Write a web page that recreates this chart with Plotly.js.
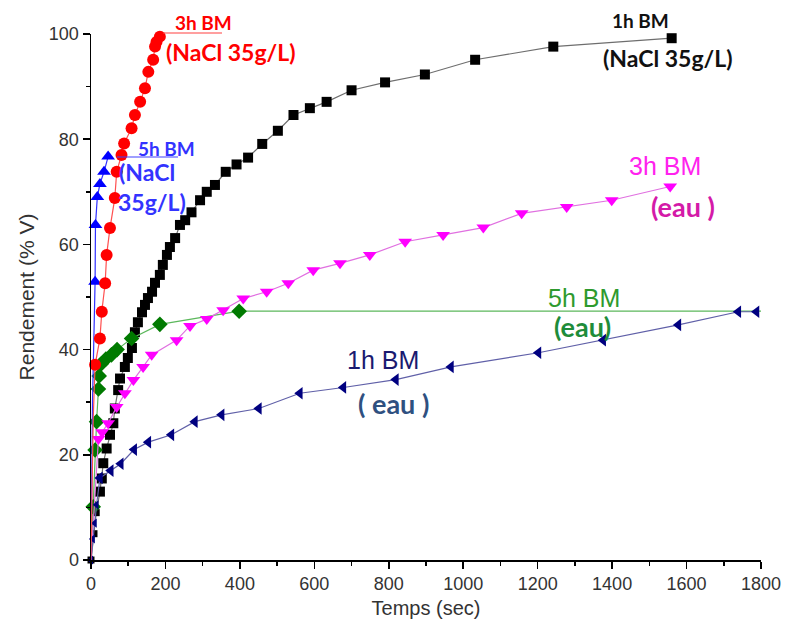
<!DOCTYPE html>
<html><head><meta charset="utf-8">
<script src="https://cdn.plot.ly/plotly-3.0.1.min.js"></script>
<style>html,body{margin:0;padding:0;background:#fff}</style>
</head><body><div id="chart" style="width:788px;height:633px"></div>
<script>
// 1h BM (NaCl 35g/L) - black squares
const nacl1hX = [0, 8, 14, 24, 29, 33, 42, 51, 60, 64, 73, 78, 91, 99, 110, 118, 126, 137, 145, 153, 164, 172, 185, 193, 204, 212, 226, 239, 253, 270, 293, 311, 333, 362, 391, 422, 460, 502, 544, 588, 633, 700, 790, 897, 1032, 1242, 1560];
const nacl1hY = [0, 5, 9, 13, 15.5, 18.4, 21.2, 23.8, 26.0, 28.8, 32.3, 34.5, 36.7, 38.4, 40.3, 43.3, 45.2, 47.1, 48.5, 49.8, 51.0, 52.7, 54.2, 56.1, 58.0, 59.5, 61.2, 63.7, 64.6, 66.1, 68.4, 70.0, 71.3, 73.8, 75.2, 76.5, 79.1, 81.6, 84.6, 85.9, 87.1, 89.3, 90.8, 92.3, 95.1, 97.6, 99.2];
// 3h BM (NaCl 35g/L) - red circles
const nacl3hX = [0, 3, 6, 11, 24, 29, 38, 42, 51, 64, 69, 82, 89, 109, 118, 132, 145, 154, 167, 172, 176, 185];
const nacl3hY = [0, 15, 27, 37.1, 42.1, 47.2, 52.6, 58.0, 63.1, 68.8, 73.8, 77.0, 79.2, 82.1, 84.6, 87.1, 89.7, 92.8, 95.1, 97.6, 98.5, 99.5];
// 5h BM (NaCl 35g/L) - blue up triangles
const nacl5hX = [0, 2, 4, 11, 12, 17, 24, 35, 46];
const nacl5hY = [0, 12, 30, 52.9, 63.7, 69.0, 71.5, 73.8, 76.7];
// 3h BM (eau) - magenta down triangles
const eau3hX = [0, 20, 30, 46, 69, 91, 114, 140, 163, 230, 266, 311, 355, 409, 472, 530, 597, 669, 749, 844, 946, 1054, 1157, 1278, 1399, 1556];
const eau3hY = [0, 23, 24.3, 26, 29.1, 31.7, 34.2, 36.7, 39, 41.8, 44.5, 45.8, 47.5, 49.7, 51.0, 52.6, 55.1, 56.4, 58.0, 60.5, 61.8, 63.2, 65.9, 67.1, 68.4, 71.0];
// 5h BM (eau) - green diamonds
const eau5hX = [0, 6, 11, 15, 20, 22, 28, 40, 55, 70, 109, 185, 398, 1800];
const eau5hY = [0, 10.1, 20.9, 26.3, 32.5, 35, 37.3, 38.2, 39, 40, 42.1, 44.8, 47.3, 47.3];
// 1h BM (eau) - navy left triangles
const eau1hX = [0, 5, 10, 15, 24, 53, 80, 116, 154, 216, 279, 351, 451, 561, 678, 819, 967, 1202, 1376, 1578, 1739, 1788];
const eau1hY = [0, 4, 7, 10.5, 15.6, 17, 18.3, 21, 22.4, 23.8, 26.3, 27.6, 28.8, 31.7, 32.8, 34.3, 36.7, 39.4, 41.8, 44.7, 47.2, 47.2];

const xTicks = [0, 200, 400, 600, 800, 1000, 1200, 1400, 1600, 1800];
const yTicks = [0, 20, 40, 60, 80, 100];

const L = 91, T = 34, W = 670, H = 526;
function px(x){ return (x - L) / W; }
function py(y){ return (T + H - y) / H; }

function tr(x, y, sym, size, mcol, lcol){
  return {x: x, y: y, type: 'scatter', mode: 'lines+markers', cliponaxis: false,
    line: {color: lcol, width: 1.2},
    marker: {symbol: sym, size: size, color: mcol, opacity: 1, line: {width: 0}}};
}
const data = [
  tr(nacl1hX, nacl1hY, 'square', nacl1hX.map((v, i) => i < 3 ? 7 : 10), '#000000', '#6e6e6e'),
  tr(eau5hX, eau5hY, 'diamond', eau5hX.map((v, i) => (i === 0 || i === eau5hX.length - 1) ? 0 : 12), '#007a00', '#5cb85c'),
  tr(eau3hX, eau3hY, 'triangle-down', eau3hX.map((v, i) => i === 0 ? 0 : 12), '#ff00ff', '#e070e0'),
  tr(eau1hX, eau1hY, 'triangle-left', eau1hX.map((v, i) => i < 4 ? 8 : 11), '#000080', '#6060a8'),
  tr(nacl5hX, nacl5hY, 'triangle-up', nacl5hX.map((v, i) => i < 3 ? 0 : 12), '#0000ff', '#3030ff'),
  tr(nacl3hX, nacl3hY, 'circle', nacl3hX.map((v, i) => i < 3 ? 0 : 12), '#ff0000', '#ff5050')
];

const bold = 'Lato, "Open Sans", sans-serif';
const arial = '"Liberation Sans", Arial, sans-serif';
function ann(text, x, y, size, color, fam, anchor){
  return {text: text, xref: 'paper', yref: 'paper', x: px(x), y: py(y), showarrow: false,
    xanchor: anchor || 'center', yanchor: 'middle', font: {family: fam, size: size, color: color}};
}
const annotations = [
  ann('<b>3h BM</b>', 203, 22, 19, '#ff0000', bold),
  ann('<b>(NaCl 35g/L)</b>', 231, 52, 23, '#ff0000', bold),
  ann('<b>5h BM</b>', 166, 148, 19, '#3333ff', bold),
  ann('<b>(NaCl</b>', 117, 172, 23, '#3333ff', bold, 'left'),
  ann('<b>35g/L)</b>', 116, 202, 23, '#3333ff', bold, 'left'),
  ann('<b>1h BM</b>', 640, 20, 19, '#111111', bold),
  ann('<b>(NaCl 35g/L)</b>', 668, 58, 23, '#111111', bold),
  ann('3h BM', 665, 166, 25, '#ff22ee', arial),
  ann('<b>(eau )</b>', 683, 206, 27, '#d41aa8', bold),
  ann('5h BM', 584, 298, 25, '#2e9a2e', arial),
  ann('<b>(eau)</b>', 582, 327, 27, '#1e8c3a', bold),
  ann('1h BM', 383, 360, 25, '#1a1a70', arial),
  ann('<b>( eau )</b>', 393, 403, 27, '#2f5080', bold)
];
const shapes = [
  {type: 'line', xref: 'paper', yref: 'paper', x0: px(163), x1: px(222), y0: py(33), y1: py(33), line: {color: '#ff4040', width: 1.2}},
  {type: 'line', xref: 'paper', yref: 'paper', x0: px(117), x1: px(178), y0: py(157), y1: py(157), line: {color: '#4040ff', width: 1.2}}
];

const layout = {
  width: 788, height: 633,
  margin: {l: L, r: 788 - L - W, t: T, b: 633 - T - H},
  paper_bgcolor: '#ffffff', plot_bgcolor: '#ffffff',
  showlegend: false,
  font: {family: arial, color: '#333333'},
  xaxis: {range: [0, 1800], tickvals: xTicks, ticktext: xTicks.map(String),
    showgrid: false, zeroline: false, showline: true, linecolor: '#000', linewidth: 1.5,
    ticks: 'outside', ticklen: 7, tickwidth: 1.5, tickcolor: '#000',
    minor: {dtick: 100, ticks: 'outside', ticklen: 4, tickwidth: 1.5, tickcolor: '#000'},
    tickfont: {size: 18, color: '#333'},
    title: {text: 'Temps (sec)', font: {size: 20, color: '#333'}, standoff: 8}},
  yaxis: {range: [0, 100], tickvals: yTicks, ticktext: yTicks.map(String),
    showgrid: false, zeroline: false, showline: true, linecolor: '#000', linewidth: 1.5,
    ticks: 'outside', ticklen: 7, tickwidth: 1.5, tickcolor: '#000',
    minor: {dtick: 10, ticks: 'outside', ticklen: 4, tickwidth: 1.5, tickcolor: '#000'},
    tickfont: {size: 18, color: '#333'},
    title: {text: 'Rendement (% V)', font: {size: 21, color: '#333'}, standoff: 8}},
  annotations: annotations,
  shapes: shapes
};
Plotly.newPlot('chart', data, layout, {displayModeBar: false, staticPlot: true});
</script></body></html>
